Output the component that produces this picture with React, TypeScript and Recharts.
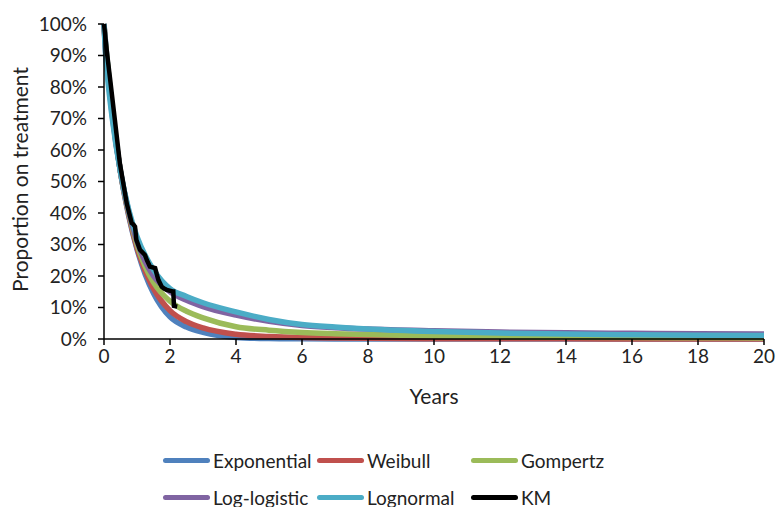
import React from "react";
import { LineChart, Line, XAxis, YAxis } from "recharts";

// Years at which the fitted curves are read
const years = [0, 0.05, 0.1, 0.25, 0.5, 0.75, 1, 1.25, 1.5, 2, 2.5, 3, 4, 5, 6, 7, 8, 10, 12, 14, 16, 18, 20];

// Proportion on treatment (%) per model
const exponential = [100, 94, 88, 73, 53, 39, 28.5, 20.5, 14.5, 7, 3.8, 2.1, 0.5, 0.15, 0.05, 0, 0, 0, 0, 0, 0, 0, 0];
const weibull = [100, 92, 87, 72, 53, 39.5, 29, 21.5, 16, 9, 5.5, 3.5, 1.5, 0.8, 0.45, 0.3, 0.2, 0.1, 0.05, 0.05, 0.03, 0.02, 0.02];
const gompertz = [100, 93, 88, 72, 53, 40, 30, 23, 18, 12, 8.8, 6.7, 3.9, 2.8, 2.1, 1.7, 1.4, 0.95, 0.7, 0.55, 0.45, 0.4, 0.35];
const logLogistic = [100, 91, 86, 71, 53, 40.5, 31, 24.5, 20, 15, 12.3, 10.3, 7.6, 5.6, 4.3, 3.6, 3.15, 2.6, 2.2, 1.95, 1.8, 1.65, 1.55];
const lognormal = [100, 90, 84, 70, 53, 41, 32.5, 26.5, 22, 16, 13.5, 11.5, 8.6, 6.2, 4.6, 3.8, 3.2, 2.4, 1.9, 1.55, 1.35, 1.2, 1.1];

// Kaplan-Meier estimate
const kmYears = [0, 0.05, 0.1, 0.18, 0.33, 0.48, 0.69, 0.84, 0.88, 0.94, 0.98, 1.09, 1.24, 1.3, 1.39, 1.55, 1.6, 1.65, 1.75, 1.82, 1.9, 2.08, 2.1, 2.12, 2.22];
const kmValues = [100, 95, 90, 83, 69.5, 55.8, 43, 36.8, 36.5, 35.7, 31.5, 28.3, 26.7, 25, 23, 22.5, 20.5, 18.7, 16.6, 16, 15.6, 15.1, 15.1, 10.5, 10.3];

const xTicks = [0, 2, 4, 6, 8, 10, 12, 14, 16, 18, 20];
const yTicks = [0, 10, 20, 30, 40, 50, 60, 70, 80, 90, 100];

const series = [
  { key: "Exponential", values: exponential, color: "#4F81BD" },
  { key: "Weibull", values: weibull, color: "#C0504D" },
  { key: "Gompertz", values: gompertz, color: "#9BBB59" },
  { key: "Log-logistic", values: logLogistic, color: "#8064A2" },
  { key: "Lognormal", values: lognormal, color: "#4BACC6" },
];

const modelData = years.map((t, i) => {
  const row: Record<string, number> = { t };
  series.forEach((s) => (row[s.key] = s.values[i]));
  return row;
});
const kmData = kmYears.map((t, i) => ({ t, KM: kmValues[i] }));

const legendItems = [...series.map((s) => ({ key: s.key, color: s.color })), { key: "KM", color: "#000000" }];

const FONT = "Lato, 'Open Sans', sans-serif";

const YLabel = (props: any) => {
  const vb = props.viewBox || {};
  const cx = 19;
  const cy = (vb.y ?? 24) + (vb.height ?? 315) / 2 - 2;
  return (
    <text
      x={cx}
      y={cy}
      transform={`rotate(-90 ${cx} ${cy})`}
      textAnchor="middle"
      dominantBaseline="central"
      fill="#222"
      fontSize={21}
      fontFamily={FONT}
    >
      Proportion on treatment
    </text>
  );
};

export default function App() {
  return (
    <div style={{ position: "absolute", left: 0, top: 0, width: 778, height: 507, background: "#fff", fontFamily: FONT }}>
      <LineChart width={778} height={507} margin={{ top: 24, right: 14, left: 0, bottom: 98 }}>
        <XAxis
          dataKey="t"
          type="number"
          domain={[0, 20]}
          ticks={xTicks}
          allowDuplicatedCategory={false}
          height={70}
          stroke="#000"
          strokeWidth={1.5}
          tickSize={6}
          tickMargin={5}
          tick={{ fill: "#222", fontSize: 19, fontFamily: FONT }}
          label={{ value: "Years", position: "insideTop", offset: 50, fill: "#222", fontSize: 21, fontFamily: FONT }}
        />
        <YAxis
          type="number"
          domain={[0, 100]}
          ticks={yTicks}
          width={104}
          stroke="#000"
          strokeWidth={1.5}
          tickSize={6}
          tickMargin={11}
          tickFormatter={(v: number) => `${v}%`}
          tick={{ fill: "#222", fontSize: 19, fontFamily: FONT }}
          label={<YLabel />}
        />
        {series.map((s) => (
          <Line
            key={s.key}
            data={modelData}
            dataKey={s.key}
            type="monotone"
            stroke={s.color}
            strokeWidth={5.5}
            dot={false}
            isAnimationActive={false}
          />
        ))}
        <Line data={kmData} dataKey="KM" type="linear" stroke="#000" strokeWidth={4.5} dot={false} isAnimationActive={false} />
      </LineChart>
      <div style={{ position: "absolute", left: 163, top: 446, width: 480 }}>
        {legendItems.map((item, i) => (
          <div
            key={item.key}
            style={{
              position: "absolute",
              left: (i % 3) * 154,
              top: Math.floor(i / 3) * 37,
              display: "flex",
              alignItems: "center",
              fontSize: 19,
              color: "#222",
              whiteSpace: "nowrap",
              height: 28,
            }}
          >
            <span style={{ display: "inline-block", width: 47, height: 5, borderRadius: 3, background: item.color, marginRight: 3 }} />
            <span>{item.key}</span>
          </div>
        ))}
      </div>
    </div>
  );
}
